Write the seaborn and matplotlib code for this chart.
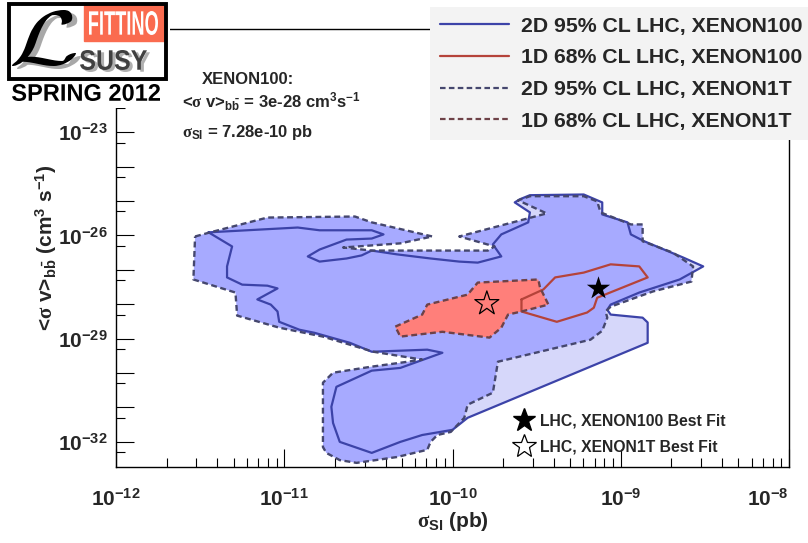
import matplotlib
matplotlib.use("Agg")
import matplotlib.pyplot as plt
import numpy as np
import seaborn as sns
from matplotlib.lines import Line2D
from matplotlib.patches import Rectangle, PathPatch
from matplotlib.textpath import TextPath
from matplotlib.font_manager import FontProperties
from matplotlib.transforms import Affine2D
from matplotlib.ticker import FixedLocator, FuncFormatter, NullFormatter

# contours: log10(sigma_SI / pb) and log10(<sigma v>_bb / cm^3 s^-1)
x100_2d_lx = [-11.45, -10.92, -10.79, -10.48, -10.41, -10.48, -10.63, -10.79, -10.86, -10.79,
              -10.63, -10.54, -10.48, -10.33, -10.13, -9.96, -9.85, -9.71, -9.76, -9.71,
              -9.55, -9.54, -9.63, -9.60, -9.54, -9.22, -9.11, -9.11, -8.96, -8.94,
              -8.86, -8.63, -8.51, -8.65, -8.89, -9.06, -9.08, -9.06, -8.87, -8.84,
              -8.84, -9.91, -10.00, -10.18, -10.31, -10.48, -10.67, -10.71, -10.72, -10.69,
              -10.48, -10.31, -10.06, -10.15, -10.48, -10.61, -10.82, -10.91, -11.03, -11.04,
              -11.08, -11.16, -11.04, -11.10, -11.25, -11.34, -11.34, -11.31]
x100_2d_ly = [-25.91, -25.77, -25.85, -25.85, -25.97, -26.09, -26.12, -26.41, -26.61, -26.76,
              -26.67, -26.58, -26.44, -26.55, -26.67, -26.76, -26.79, -26.61, -26.26, -25.97,
              -25.62, -25.33, -25.04, -24.95, -24.83, -24.81, -25.04, -25.39, -25.62, -25.97,
              -26.17, -26.64, -26.90, -27.28, -27.66, -28.01, -28.16, -28.30, -28.39, -28.53,
              -29.12, -31.30, -31.65, -31.80, -32.00, -32.32, -32.00, -31.45, -30.98, -30.40,
              -29.93, -29.85, -29.41, -29.32, -29.38, -29.12, -28.83, -28.74, -28.51, -28.21,
              -28.01, -27.86, -27.54, -27.46, -27.43, -27.22, -26.90, -26.32]

x1t_2d_lx = [-11.53, -11.44, -11.10, -10.58, -10.48, -10.12, -10.31, -10.65, -10.48, -9.79,
             -9.75, -9.96, -9.44, -9.61, -9.54, -9.22, -9.14, -9.12, -8.94, -8.87,
             -8.87, -8.69, -8.57, -8.58, -8.81, -9.06, -9.09, -9.08, -9.11, -9.18,
             -9.73, -9.76, -9.91, -9.93, -10.01, -10.09, -10.13, -10.15, -10.33, -10.57,
             -10.67, -10.75, -10.77, -10.77, -10.71, -10.49, -10.31, -10.18, -10.47, -10.77,
             -10.97, -11.03, -11.28, -11.29, -11.54]
x1t_2d_ly = [-26.03, -25.91, -25.48, -25.45, -25.62, -26.03, -26.23, -26.35, -26.44, -26.44,
             -26.32, -26.03, -25.36, -24.98, -24.86, -24.86, -25.01, -25.33, -25.68, -25.68,
             -26.17, -26.50, -26.90, -27.34, -27.63, -28.07, -28.21, -28.39, -28.77, -29.03,
             -29.67, -30.57, -30.92, -31.30, -31.71, -31.80, -32.00, -32.23, -32.44, -32.61,
             -32.53, -32.32, -32.15, -30.28, -29.99, -29.82, -29.70, -29.61, -29.38, -28.94,
             -28.74, -28.68, -28.33, -27.66, -27.28]

x1t_1d_lx = [-10.34, -10.18, -10.15, -9.91, -9.85, -9.49, -9.48, -9.43, -9.59, -9.67, -9.71, -9.78, -10.06, -10.31]
x1t_1d_ly = [-28.65, -28.30, -28.01, -27.72, -27.37, -27.28, -27.51, -28.01, -28.21, -28.30, -28.68, -28.97, -28.80, -28.94]

x100_1d_lx = [-9.59, -9.59, -9.38, -9.20, -9.16, -9.14, -8.84, -8.89, -9.06, -9.22, -9.39, -9.46]
x100_1d_ly = [-27.86, -28.21, -28.51, -28.24, -28.10, -27.81, -27.22, -26.90, -26.84, -27.08, -27.22, -27.57]

# best fit points (sigma_SI, <sigma v>)
bf_x100 = (7.28e-10, 3e-28)
bf_x1t = (1.6e-10, 1.05e-28)

legend_labels = ["2D 95% CL LHC, XENON100", "1D 68% CL LHC, XENON100",
                 "2D 95% CL LHC, XENON1T", "1D 68% CL LHC, XENON1T"]
bestfit_labels = ["LHC, XENON100 Best Fit", "LHC, XENON1T Best Fit"]

sns.set_style("ticks")
plt.rcParams["font.family"] = ["Liberation Sans", "DejaVu Sans"]
plt.rcParams["font.weight"] = "bold"
plt.rcParams["axes.labelweight"] = "bold"
plt.rcParams["mathtext.fontset"] = "custom"
plt.rcParams["mathtext.rm"] = "Liberation Sans:bold"
plt.rcParams["mathtext.bf"] = "Liberation Sans:bold"
plt.rcParams["mathtext.it"] = "Liberation Serif"
plt.rcParams["mathtext.default"] = "rm"

c_fill100 = "#d6d7fa"
c_fill1t = "#a7aaff"
c_fill1t_1d = "#ff7f7a"
c_line100 = "#3c43a8"
c_line1t = "#45476e"
c_red100 = "#b5433a"
c_red1t = "#6e4248"
dash = (0, (2.5, 1.5))

fig = plt.figure(figsize=(8.08, 5.43), dpi=100)
ax = fig.add_axes([116/808, 76/543, 673/808, 438/543])
ax.set_xscale("log")
ax.set_yscale("log")
ax.set_xlim(1e-12, 1e-8)
ax.set_ylim(10**-32.73, 1e-20)


def poly(lx, ly):
    x = np.power(10.0, lx)
    y = np.power(10.0, ly)
    return np.append(x, x[0]), np.append(y, y[0])


x, y = poly(x100_2d_lx, x100_2d_ly)
ax.fill(x, y, color=c_fill100, lw=0, zorder=1)
x, y = poly(x1t_2d_lx, x1t_2d_ly)
ax.fill(x, y, color=c_fill1t, lw=0, zorder=2)
x, y = poly(x1t_1d_lx, x1t_1d_ly)
ax.fill(x, y, color=c_fill1t_1d, lw=0, zorder=3)

x, y = poly(x100_2d_lx, x100_2d_ly)
sns.lineplot(x=x, y=y, sort=False, estimator=None, color=c_line100, lw=1.6, ax=ax, zorder=5)
x, y = poly(x1t_2d_lx, x1t_2d_ly)
sns.lineplot(x=x, y=y, sort=False, estimator=None, color=c_line1t, lw=1.7, ls=dash, ax=ax, zorder=6)
x, y = poly(x100_1d_lx, x100_1d_ly)
sns.lineplot(x=x, y=y, sort=False, estimator=None, color=c_red100, lw=1.6, ax=ax, zorder=5)
x, y = poly(x1t_1d_lx, x1t_1d_ly)
sns.lineplot(x=x, y=y, sort=False, estimator=None, color=c_red1t, lw=1.7, ls=dash, ax=ax, zorder=6)

sns.scatterplot(x=[bf_x100[0]], y=[bf_x100[1]], marker="*", s=310, color="black", lw=0, ax=ax, zorder=8)
ax.scatter([bf_x1t[0]], [bf_x1t[1]], marker="*", s=330, facecolors="none", edgecolors="black",
           linewidths=0.9, zorder=8)

# axes, ticks
ax.xaxis.set_major_locator(FixedLocator(10.0 ** np.arange(-12, -7)))
ax.xaxis.set_minor_locator(FixedLocator([m * 10.0 ** e for e in range(-12, -8) for m in range(2, 10)]))
ax.xaxis.set_major_formatter(FuncFormatter(lambda v, p: rf"$10^{{{int(round(np.log10(v)))}}}$"))
ax.xaxis.set_minor_formatter(NullFormatter())


def yfmt(v, p):
    e = int(round(np.log10(v)))
    return rf"$10^{{{e}}}$" if (e + 23) % 3 == 0 else ""


ax.yaxis.set_major_locator(FixedLocator(10.0 ** np.arange(-32, -19)))
ax.yaxis.set_minor_locator(FixedLocator(5 * 10.0 ** np.arange(-33, -20)))
ax.yaxis.set_major_formatter(FuncFormatter(yfmt))
ax.yaxis.set_minor_formatter(NullFormatter())
ax.tick_params(which="both", direction="in", top=False, right=False, width=0.8, color="black")
ax.tick_params(which="major", length=13, labelsize=15)
ax.tick_params(which="minor", length=6.5)
ax.tick_params(axis="x", which="major", pad=15)
ax.tick_params(axis="y", which="major", pad=6)
ax.xaxis.get_major_ticks()[4].label1.set_horizontalalignment("right")
for s in ax.spines.values():
    s.set_color("black")
    s.set_linewidth(1.0)

ax.set_xlabel(r"$\mathit{\sigma}_{\mathrm{SI}}$ (pb)", fontsize=15)
ax.xaxis.set_label_coords(0.5, -(510 - 467) / 438)
ax.set_ylabel(r"<$\mathit{\sigma}$ v>$_{\mathrm{b\bar{b}}}$ (cm$^{3}$ s$^{-1}$)", fontsize=15)
ax.yaxis.set_label_coords(-(116 - 59) / 673, 0.5)

# legends
handles = [Line2D([], [], color=c_line100, lw=1.6),
           Line2D([], [], color=c_red100, lw=1.6),
           Line2D([], [], color=c_line1t, lw=1.6, ls=dash),
           Line2D([], [], color=c_red1t, lw=1.6, ls=dash)]
leg1 = ax.legend(handles, legend_labels, loc="upper left", bbox_to_anchor=(430/808, 1 - 7/543),
                 bbox_transform=fig.transFigure, borderaxespad=0, borderpad=0.45, labelspacing=0.6,
                 handlelength=3.26, handletextpad=0.58, prop={"weight": "bold", "size": 15.3},
                 frameon=True, fancybox=False, facecolor="#f3f3f3", edgecolor="none", framealpha=1)
leg1.set_zorder(20)
ax.add_artist(leg1)
star_handles = [Line2D([], [], ls="none", marker="*", markersize=17, color="black"),
                Line2D([], [], ls="none", marker="*", markersize=18, markerfacecolor="none",
                       markeredgecolor="black", markeredgewidth=0.9)]
leg2 = ax.legend(star_handles, bestfit_labels, loc="upper left", bbox_to_anchor=(516/808, 1 - 413/543),
                 bbox_transform=fig.transFigure, borderaxespad=0, borderpad=0, labelspacing=0.72,
                 handlelength=1.0, handletextpad=0.5, prop={"weight": "bold", "size": 11.3}, frameon=False)

# text block
fig.text(202/808, 1 - 84/543, "XENON100:", fontsize=12, fontweight="bold", va="baseline")
fig.text(182/808, 1 - 108/543, r"<$\mathit{\sigma}$ v>$_{\mathrm{b\bar{b}}}$ = 3e-28 cm$^{3}$s$^{-1}$",
         fontsize=12, fontweight="bold", va="baseline")
fig.text(182/808, 1 - 137/543, r"$\mathit{\sigma}_{\mathrm{SI}}$ = 7.28e-10 pb",
         fontsize=12, fontweight="bold", va="baseline")

# logo
lax = fig.add_axes([0, 1 - 108/543, 170/808, 108/543])
lax.set_xlim(0, 170)
lax.set_ylim(108, 0)
lax.axis("off")
lax.add_patch(Rectangle((0, 0), 170, 108, color="white", zorder=0))


def fit_text(s, x0, y0, x1, y1, color, prop):
    tp = TextPath((0, 0), s, size=20, prop=prop)
    ext = tp.get_extents()
    tr = (Affine2D().translate(-ext.x0, -ext.y0)
          .scale((x1 - x0) / ext.width, -(y1 - y0) / ext.height).translate(x0, y1))
    lax.add_patch(PathPatch(tr.transform_path(tp), facecolor=color, edgecolor="none", zorder=3))


lax.add_patch(Rectangle((84, 4), 81, 37, color="#fa6b4f", zorder=1))
lax.add_patch(Rectangle((9, 4), 157, 75, fill=False, ec="black", lw=2.8, zorder=4))
reg = FontProperties(family="Liberation Sans")
bold = FontProperties(family="Liberation Sans", weight="bold")
cal = FontProperties(math_fontfamily="cm")
fit_text("FITTINO", 89, 11, 158, 35, "white", reg)
fit_text("SUSY", 83, 52, 150, 72, "#b0b0b0", reg)
fit_text("SUSY", 80, 50, 147, 70, "#404040", reg)
fit_text(r"$\mathcal{L}$", 17, 13, 81, 69, "#a8a8a8", cal)
fit_text(r"$\mathcal{L}$", 12, 10, 76, 66, "black", cal)
fit_text("SPRING 2012", 12, 84, 160, 101, "black", bold)

fig.savefig("out.png", dpi=100)
